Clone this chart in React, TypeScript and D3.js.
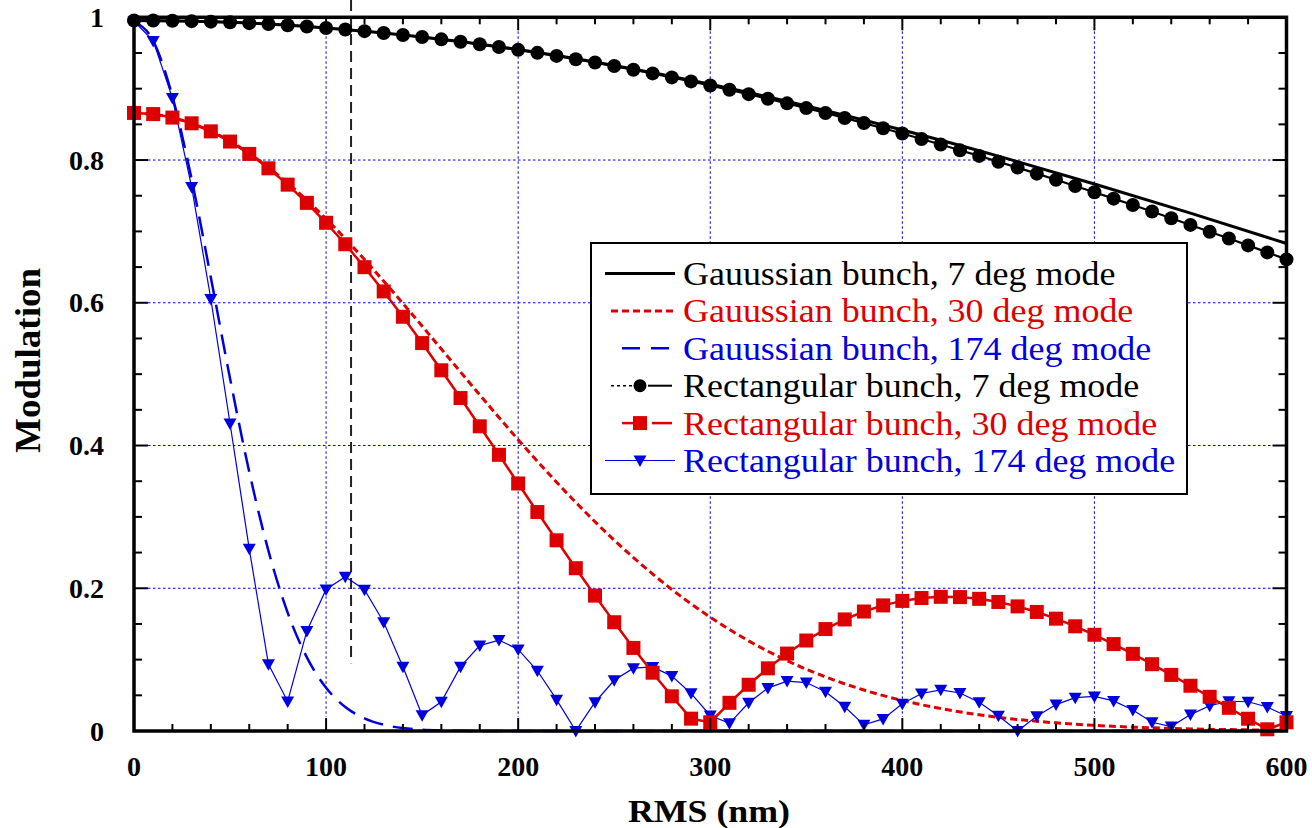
import React from "react";
import * as d3 from "d3";

// ---------- data ----------
const RMS = [
  0, 10, 20, 30, 40, 50, 60, 70, 80, 90, 100, 110, 120, 130, 140, 150, 160, 170, 180, 190,
  200, 210, 220, 230, 240, 250, 260, 270, 280, 290, 300, 310, 320, 330, 340, 350, 360, 370,
  380, 390, 400, 410, 420, 430, 440, 450, 460, 470, 480, 490, 500, 510, 520, 530, 540, 550,
  560, 570, 580, 590, 600,
];

const RECT_7 = [
  0.9955, 0.9955, 0.9951, 0.9946, 0.9939, 0.993, 0.9918, 0.9905, 0.9889, 0.9872, 0.9851,
  0.9829, 0.9806, 0.978, 0.9752, 0.9723, 0.9691, 0.9657, 0.9622, 0.9584, 0.9544, 0.9502,
  0.9459, 0.9413, 0.9366, 0.9317, 0.9266, 0.9214, 0.9158, 0.9102, 0.9044, 0.8984, 0.8923,
  0.8859, 0.8794, 0.8728, 0.866, 0.859, 0.8518, 0.8445, 0.8371, 0.8295, 0.8218, 0.8138,
  0.8058, 0.7977, 0.7894, 0.7809, 0.7724, 0.7637, 0.7549, 0.7459, 0.7369, 0.7278, 0.7184,
  0.7091, 0.6996, 0.6901, 0.6804, 0.6706, 0.6608,
];

const RECT_30 = [
  0.866, 0.8644, 0.8595, 0.8515, 0.8402, 0.8259, 0.8086, 0.7884, 0.7655, 0.74, 0.7121,
  0.682, 0.6499, 0.6159, 0.5804, 0.5435, 0.5054, 0.4665, 0.4269, 0.387, 0.3468, 0.3068,
  0.2672, 0.2281, 0.1897, 0.1524, 0.1164, 0.0817, 0.0486, 0.0173, 0.0122, 0.0395, 0.0648,
  0.0878, 0.1085, 0.1268, 0.1428, 0.1563, 0.1674, 0.176, 0.1823, 0.1863, 0.188, 0.1876,
  0.1852, 0.1808, 0.1746, 0.1668, 0.1574, 0.1467, 0.1348, 0.1218, 0.1081, 0.0936, 0.0786,
  0.0634, 0.0479, 0.0325, 0.0172, 0.0024, 0.0122,
];

const RECT_174 = [
  0.9945, 0.9669, 0.8868, 0.7623, 0.6053, 0.4309, 0.2552, 0.0935, 0.0414, 0.1402, 0.1983,
  0.216, 0.198, 0.1525, 0.09, 0.022, 0.041, 0.0901, 0.1197, 0.1274, 0.1143, 0.0844, 0.0439,
  0.0001, 0.0403, 0.071, 0.088, 0.0897, 0.0769, 0.0528, 0.0218, 0.0107, 0.0395, 0.0601,
  0.0699, 0.0679, 0.055, 0.034, 0.0086, 0.0169, 0.0383, 0.0526, 0.0577, 0.0532, 0.0403,
  0.0214, 0.0001, 0.0206, 0.037, 0.0467, 0.0484, 0.0422, 0.0294, 0.0123, 0.0062, 0.023,
  0.0354, 0.0417, 0.041, 0.0336, 0.021,
];

const GAUSS_RMS_7 = [0, 50, 100, 150, 200, 250, 300, 350, 400, 450, 500, 550, 600];
const GAUSS_7 = [
  0.9955, 0.993, 0.9851, 0.9724, 0.9548, 0.9325, 0.9061, 0.8758, 0.8421, 0.8055, 0.7665,
  0.7256, 0.6831,
];

const GAUSS_RMS_30 = [
  0, 20, 40, 60, 80, 100, 120, 140, 160, 180, 200, 220, 240, 260, 280, 300, 320, 340, 360,
  380, 400, 420, 440, 460, 480, 500, 520, 540, 560, 580, 600,
];
const GAUSS_30 = [
  0.866, 0.8595, 0.8404, 0.8094, 0.7678, 0.7176, 0.6606, 0.5991, 0.5352, 0.471, 0.4082,
  0.3486, 0.2932, 0.243, 0.1983, 0.1595, 0.1263, 0.0985, 0.0758, 0.0574, 0.0428, 0.0314,
  0.0227, 0.0162, 0.0114, 0.0079, 0.0054, 0.0036, 0.0024, 0.0016, 0.001,
];

const GAUSS_RMS_174 = [
  0, 10, 20, 30, 40, 50, 60, 70, 80, 90, 100, 110, 120, 130, 140, 150, 160, 170, 180, 190,
  200, 300, 400, 500, 600,
];
const GAUSS_174 = [
  0.9945, 0.9671, 0.8892, 0.7731, 0.6355, 0.494, 0.3631, 0.2523, 0.1658, 0.1031, 0.0606,
  0.0336, 0.0177, 0.0088, 0.0041, 0.0018, 0.0008, 0.0003, 0.0001, 0, 0, 0, 0, 0, 0,
];

const X_TICKS = [0, 100, 200, 300, 400, 500, 600];
const X_LABELS = ["0", "100", "200", "300", "400", "500", "600"];
const Y_TICKS = [0, 0.2, 0.4, 0.6, 0.8, 1];
const Y_LABELS = ["0", "0.2", "0.4", "0.6", "0.8", "1"];
const X_GRID = [100, 200, 300, 400, 500];
const Y_GRID = [0.2, 0.4, 0.6, 0.8];
const REF_RMS = 113;
const REF_BOTTOM = 0.095;

const LEGEND_LABELS = [
  "Gauussian bunch, 7 deg mode",
  "Gauussian bunch, 30 deg mode",
  "Gauussian bunch, 174 deg mode",
  "Rectangular bunch, 7 deg mode",
  "Rectangular bunch, 30 deg mode",
  "Rectangular bunch, 174 deg mode",
];

// ---------- styles ----------
const RED = "#dd0000";
const BLUE = "#0000dd";
const SERIF = "'Liberation Serif', 'Times New Roman', Times, serif";

const W = 1312;
const H = 828;
const X0 = 134;
const X1 = 1286.5;
const Y0 = 731;
const Y1 = 17.3;

const x = d3.scaleLinear().domain([0, 600]).range([X0, X1]);
const y = d3.scaleLinear().domain([0, 1]).range([Y0, Y1]);

const pairs = (xs: number[], ys: number[]) => xs.map((v, i) => [v, ys[i]] as [number, number]);

const lineStraight = d3
  .line<[number, number]>()
  .x((d) => x(d[0]))
  .y((d) => y(d[1]));
const lineSmooth = d3
  .line<[number, number]>()
  .x((d) => x(d[0]))
  .y((d) => y(d[1]))
  .curve(d3.curveMonotoneX);

const triPath = "M-6.5,-5L6.5,-5L0,6.5Z";

export default function App() {
  const rect7 = pairs(RMS, RECT_7);
  const rect30 = pairs(RMS, RECT_30);
  const rect174 = pairs(RMS, RECT_174);
  const g7 = pairs(GAUSS_RMS_7, GAUSS_7);
  const g30 = pairs(GAUSS_RMS_30, GAUSS_30);
  const g174 = pairs(GAUSS_RMS_174, GAUSS_174);

  const xMinor = d3.range(0, 601, 20);
  const yMinor = d3.range(0, 1.0001, 0.05);

  const legX = 591;
  const legY = 243;
  const legW = 596;
  const legH = 251;
  const rowY = (i: number) => 285 + i * 37.4;
  const legendColors = ["#000", RED, BLUE, "#000", RED, BLUE];

  return (
    <svg
      width={W}
      height={H}
      style={{ position: "absolute", left: 0, top: 0, background: "#fff" }}
      fontFamily={SERIF}
    >
      <rect x={0} y={0} width={W} height={H} fill="#fff" />

      {/* grid */}
      <g stroke={BLUE} strokeWidth={1} strokeDasharray="2.5,2.5">
        {X_GRID.map((v) => (
          <line key={"gx" + v} x1={x(v)} x2={x(v)} y1={Y1 + 14} y2={Y0 - 14} />
        ))}
        {Y_GRID.map((v) => (
          <line key={"gy" + v} x1={X0 + 14} x2={X1 - 14} y1={y(v)} y2={y(v)} />
        ))}
      </g>

      {/* reference dashed line */}
      <line
        x1={x(REF_RMS)}
        x2={x(REF_RMS)}
        y1={0}
        y2={y(REF_BOTTOM)}
        stroke="#222"
        strokeWidth={2}
        strokeDasharray="11,6"
      />

      {/* gaussian curves */}
      <path d={lineSmooth(g7) || ""} fill="none" stroke="#000" strokeWidth={3} />
      <path d={lineSmooth(g30) || ""} fill="none" stroke={RED} strokeWidth={3} strokeDasharray="7,4" />
      <path d={lineSmooth(g174) || ""} fill="none" stroke={BLUE} strokeWidth={2.5} strokeDasharray="20,10" />

      {/* rectangular curves */}
      <path d={lineStraight(rect174) || ""} fill="none" stroke={BLUE} strokeWidth={1.2} />
      <path d={lineStraight(rect30) || ""} fill="none" stroke={RED} strokeWidth={2.5} />
      <path d={lineStraight(rect7) || ""} fill="none" stroke="#000" strokeWidth={2.2} />

      {rect174.map((d, i) => (
        <path key={"t" + i} d={triPath} transform={`translate(${x(d[0])},${y(d[1])})`} fill={BLUE} />
      ))}
      {rect30.map((d, i) => (
        <rect key={"s" + i} x={x(d[0]) - 7} y={y(d[1]) - 7} width={14} height={14} fill={RED} />
      ))}
      {rect7.map((d, i) => (
        <circle key={"c" + i} cx={x(d[0])} cy={y(d[1])} r={7} fill="#000" />
      ))}

      {/* legend */}
      <rect x={legX} y={legY} width={legW} height={legH} fill="#fff" stroke="#000" strokeWidth={2} />
      <line x1={605} x2={675} y1={rowY(0) - 11.5} y2={rowY(0) - 11.5} stroke="#000" strokeWidth={3} />
      <line x1={611} x2={675} y1={rowY(1) - 11.5} y2={rowY(1) - 11.5} stroke={RED} strokeWidth={3} strokeDasharray="7,4" />
      <line x1={622} x2={675} y1={rowY(2) - 11.5} y2={rowY(2) - 11.5} stroke={BLUE} strokeWidth={2.5} strokeDasharray="18,11" />
      <line x1={611} x2={633} y1={rowY(3) - 11.5} y2={rowY(3) - 11.5} stroke="#000" strokeWidth={1.5} strokeDasharray="3,3" />
      <line x1={648} x2={672} y1={rowY(3) - 11.5} y2={rowY(3) - 11.5} stroke="#000" strokeWidth={2} />
      <circle cx={640} cy={rowY(3) - 11.5} r={6.5} fill="#000" />
      <line x1={622} x2={634} y1={rowY(4) - 11.5} y2={rowY(4) - 11.5} stroke={RED} strokeWidth={2.5} />
      <line x1={652} x2={672} y1={rowY(4) - 11.5} y2={rowY(4) - 11.5} stroke={RED} strokeWidth={2.5} />
      <rect x={633} y={rowY(4) - 18.5} width={14} height={14} fill={RED} />
      <line x1={605} x2={675} y1={rowY(5) - 11.5} y2={rowY(5) - 11.5} stroke={BLUE} strokeWidth={1.2} />
      <path d={triPath} transform={`translate(640,${rowY(5) - 11.5})`} fill={BLUE} />

      {LEGEND_LABELS.map((t, i) => (
        <text
          key={"lt" + i}
          transform={`translate(683,${rowY(i)}) scale(1.09,1)`}
          fontSize={33}
          fill={legendColors[i]}
        >
          {t}
        </text>
      ))}

      {/* axes frame */}
      <rect x={X0} y={Y1} width={X1 - X0} height={Y0 - Y1} fill="none" stroke="#000" strokeWidth={3.5} />

      {/* ticks */}
      <g stroke="#000" strokeWidth={2}>
        {xMinor.map((v) => {
          const major = v % 100 === 0;
          const len = major ? 13 : 7;
          return (
            <g key={"xt" + v}>
              <line x1={x(v)} x2={x(v)} y1={Y0} y2={Y0 - len} />
              <line x1={x(v)} x2={x(v)} y1={Y1} y2={Y1 + len} />
            </g>
          );
        })}
        {yMinor.map((v, i) => {
          const major = i % 4 === 0;
          const len = major ? 14 : 8;
          return (
            <g key={"yt" + i}>
              <line x1={X0} x2={X0 + len} y1={y(v)} y2={y(v)} />
              <line x1={X1} x2={X1 - len} y1={y(v)} y2={y(v)} />
            </g>
          );
        })}
      </g>

      {/* tick labels */}
      {X_TICKS.map((v, i) => (
        <text key={"xl" + v} x={x(v)} y={776} textAnchor="middle" fontSize={28} fontWeight="bold">
          {X_LABELS[i]}
        </text>
      ))}
      {Y_TICKS.map((v, i) => (
        <text key={"yl" + v} x={104} y={y(v) + 9.5} textAnchor="end" fontSize={28} fontWeight="bold">
          {Y_LABELS[i]}
        </text>
      ))}

      {/* axis titles */}
      <text
        x={709}
        y={821.5}
        textAnchor="middle"
        fontSize={31}
        fontWeight="bold"
        textLength={162}
        lengthAdjust="spacingAndGlyphs"
      >
        RMS (nm)
      </text>
      <text
        transform="translate(40,360.5) rotate(-90)"
        textAnchor="middle"
        fontSize={36}
        fontWeight="bold"
        textLength={185}
        lengthAdjust="spacingAndGlyphs"
      >
        Modulation
      </text>
    </svg>
  );
}
